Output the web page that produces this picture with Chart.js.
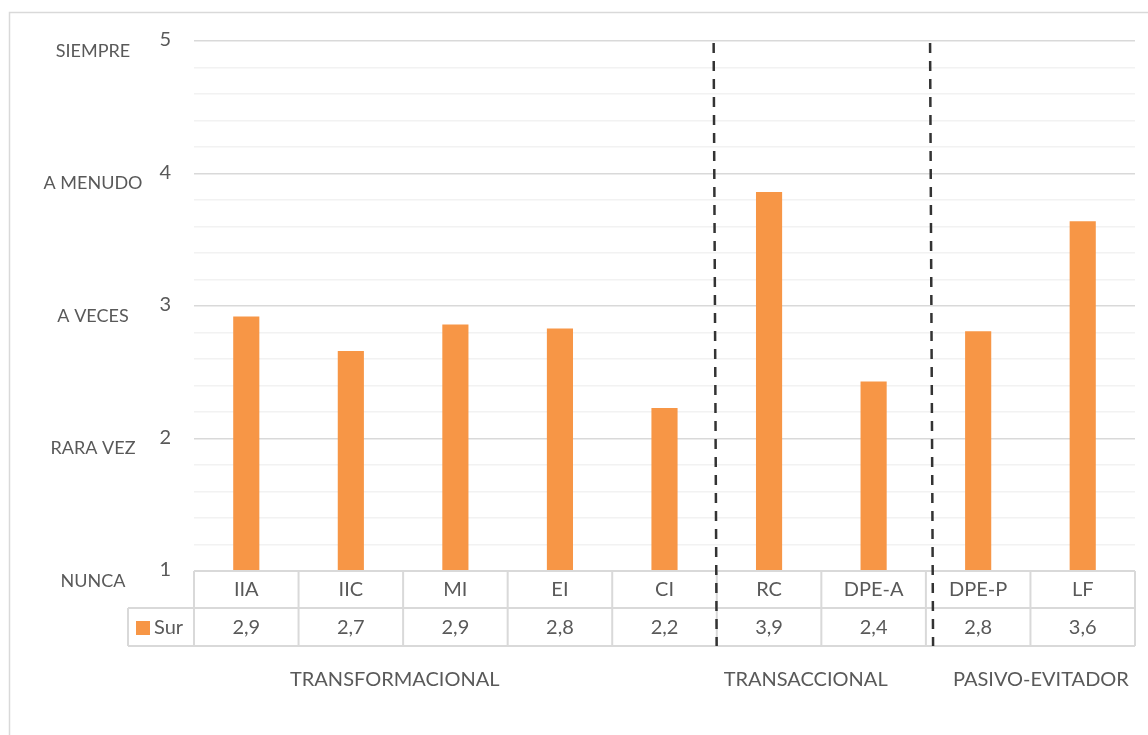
<!DOCTYPE html>
<html>
<head>
<meta charset="utf-8">
<script src="https://cdn.jsdelivr.net/npm/chart.js@4.4.1/dist/chart.umd.min.js"></script>
<style>
  html, body { margin: 0; padding: 0; background: #ffffff; }
  #wrap { position: relative; width: 1148px; height: 735px; }
</style>
</head>
<body>
<div id="wrap"><canvas id="c" width="1148" height="735"></canvas></div>
<script>
// ---- data ----
const categories = ['IIA', 'IIC', 'MI', 'EI', 'CI', 'RC', 'DPE-A', 'DPE-P', 'LF'];
const seriesName = 'Sur';
const surValues = [2.92, 2.66, 2.86, 2.83, 2.23, 3.86, 2.43, 2.81, 3.64];
const yTickValues = [1, 2, 3, 4, 5];
const yTickNames = ['NUNCA', 'RARA VEZ', 'A VECES', 'A MENUDO', 'SIEMPRE'];
const groupNames = ['TRANSFORMACIONAL', 'TRANSACCIONAL', 'PASIVO-EVITADOR'];
const groupCenters = [1.42, 5.35, 7.6];      // in category-index units
const separatorPositions = [4.47, 6.54];     // in category-index units

const FONT = 'Lato, "Open Sans", sans-serif';
const TEXT = '#595959';
const LINE = '#d9d9d9';

const overlay = {
  id: 'overlay',
  beforeDraw(chart) {
    const ctx = chart.ctx;
    ctx.save();
    ctx.fillStyle = '#fff';
    ctx.fillRect(0, 0, chart.width, chart.height);
    ctx.strokeStyle = LINE;
    ctx.lineWidth = 1.5;
    ctx.beginPath();
    ctx.moveTo(9.5, 735); ctx.lineTo(9.5, 12.5); ctx.lineTo(1148, 12.5);
    ctx.stroke();
    ctx.restore();
  },
  afterDatasetsDraw(chart) {
    const ctx = chart.ctx;
    const x = chart.scales.x, y = chart.scales.y;
    const area = chart.chartArea;
    const step = (x.getPixelForValue(1) - x.getPixelForValue(0));
    const left = area.left, right = area.right;
    const row0 = area.bottom, row1 = row0 + 37, row2 = row0 + 75;
    ctx.save();
    ctx.fillStyle = TEXT;
    ctx.textBaseline = 'middle';
    yTickValues.forEach((v, i) => {
      const py = y.getPixelForValue(v);
      ctx.font = '20px ' + FONT;
      ctx.textAlign = 'right';
      ctx.fillText(String(v), 171, py - 1);
      ctx.font = '18px ' + FONT;
      ctx.textAlign = 'center';
      ctx.fillText(yTickNames[i], 93, py + 10);
    });
    ctx.strokeStyle = LINE;
    ctx.lineWidth = 2;
    ctx.beginPath();
    ctx.moveTo(left, row0); ctx.lineTo(right, row0);
    ctx.moveTo(128, row1); ctx.lineTo(right, row1);
    ctx.moveTo(128, row2); ctx.lineTo(right, row2);
    ctx.moveTo(128, row1); ctx.lineTo(128, row2);
    for (let i = 0; i <= categories.length; i++) {
      const px = x.getPixelForValue(i) - step / 2;
      ctx.moveTo(px, row0); ctx.lineTo(px, row2);
    }
    ctx.stroke();
    ctx.fillStyle = TEXT;
    ctx.font = '20px ' + FONT;
    ctx.textAlign = 'center';
    categories.forEach((c, i) => {
      const px = x.getPixelForValue(i);
      ctx.fillText(c, px, row0 + 19);
      ctx.fillText(surValues[i].toFixed(1).replace('.', ','), px, row1 + 20);
    });
    ctx.fillStyle = '#F79646';
    ctx.fillRect(136, row1 + 13, 14, 14);
    ctx.fillStyle = TEXT;
    ctx.textAlign = 'left';
    ctx.fillText(seriesName, 154, row1 + 20);
    ctx.font = '20px ' + FONT;
    ctx.textAlign = 'center';
    groupNames.forEach((g, i) => {
      ctx.fillText(g, x.getPixelForValue(groupCenters[i]), 680);
    });
    ctx.strokeStyle = '#333333';
    ctx.lineWidth = 2.5;
    ctx.setLineDash([10, 8]);
    separatorPositions.forEach(s => {
      const px = x.getPixelForValue(s);
      ctx.beginPath();
      ctx.moveTo(px, area.top + 2);
      ctx.lineTo(px + 3, row2);
      ctx.stroke();
    });
    ctx.restore();
  }
};

new Chart(document.getElementById('c'), {
  type: 'bar',
  data: {
    labels: categories,
    datasets: [{
      label: seriesName,
      data: surValues,
      backgroundColor: '#F79646',
      borderWidth: 0,
      categoryPercentage: 1,
      barPercentage: 0.25
    }]
  },
  options: {
    responsive: false,
    animation: false,
    events: [],
    layout: { padding: { left: 194, right: 13, top: 41, bottom: 164 } },
    plugins: { legend: { display: false }, tooltip: { enabled: false } },
    scales: {
      x: { display: false },
      y: {
        display: true,
        min: 1, max: 5,
        ticks: { display: false, stepSize: 0.2 },
        border: { display: false },
        grid: {
          drawTicks: false,
          lineWidth: 1.5,
          color: (c) => {
            const v = c.tick ? c.tick.value : 0;
            return Math.abs(v - Math.round(v)) < 1e-6 ? '#d9d9d9' : '#f2f2f2';
          }
        }
      }
    }
  },
  plugins: [overlay]
});
</script>
</body>
</html>
